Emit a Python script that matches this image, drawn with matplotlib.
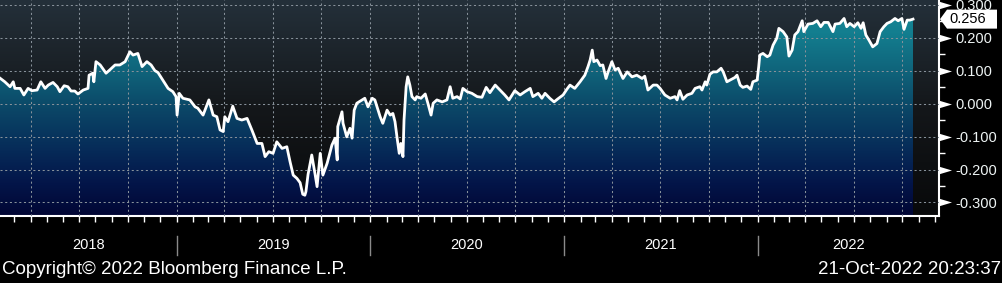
import numpy as np
import pandas as pd
import matplotlib
matplotlib.use('Agg')
import matplotlib.pyplot as plt
import matplotlib.dates as mdates
from matplotlib.colors import LinearSegmentedColormap
from matplotlib.patches import Polygon
from matplotlib.ticker import MultipleLocator, FormatStrFormatter
from matplotlib.transforms import IdentityTransform

plt.rcParams['font.family'] = ['Liberation Sans', 'DejaVu Sans']
plt.rcParams['axes.unicode_minus'] = False

######################################################################
# data (days after the first point, value)

start_date = '2018-02-02'
day_offset = [
    0, 9, 19, 25, 28, 38, 45, 53, 60, 70, 77, 85, 91, 100, 108, 113, 121, 128, 134, 141,
    147, 157, 166, 168, 175, 177, 181, 189, 200, 207, 217, 226, 236, 245, 251, 260, 268, 277, 285, 292,
    298, 307, 317, 326, 332, 334, 338, 345, 358, 368, 373, 383, 394, 402, 409, 415, 421, 424, 430, 439,
    447, 456, 466, 475, 485, 494, 500, 507, 515, 522, 532, 541, 547, 553, 560, 566, 571, 575, 577, 581,
    588, 594, 598, 604, 609, 617, 626, 632, 636, 637, 645, 647, 654, 660, 664, 668, 673, 683, 688, 694,
    702, 707, 717, 722, 730, 736, 741, 745, 749, 753, 756, 760, 762, 766, 769, 773, 777, 783, 786, 794,
    802, 807, 813, 817, 824, 834, 843, 849, 854, 862, 868, 873, 881, 890, 900, 909, 917, 924, 934, 943,
    952, 960, 971, 981, 990, 1000, 1005, 1015, 1022, 1028, 1037, 1045, 1052, 1062, 1069, 1075, 1084, 1094, 1103, 1109,
    1113, 1117, 1120, 1126, 1132, 1137, 1143, 1147, 1154, 1160, 1166, 1175, 1183, 1192, 1201, 1211, 1216, 1222, 1232, 1239,
    1245, 1254, 1264, 1273, 1277, 1282, 1288, 1296, 1305, 1311, 1320, 1324, 1330, 1333, 1339, 1345, 1352, 1360, 1364, 1371,
    1379, 1386, 1390, 1396, 1401, 1409, 1416, 1420, 1428, 1431, 1433, 1439, 1447, 1452, 1458, 1465, 1469, 1477, 1484, 1488,
    1494, 1499, 1505, 1513, 1516, 1524, 1533, 1541, 1548, 1554, 1562, 1571, 1575, 1584, 1592, 1597, 1603, 1611, 1618, 1624,
    1628, 1633, 1639, 1646, 1654, 1660, 1667, 1673, 1680, 1688, 1694, 1701, 1705, 1711, 1716, 1722,
]
spread = [
    0.077, 0.066, 0.051, 0.066, 0.046, 0.046, 0.026, 0.046, 0.039, 0.041, 0.066, 0.046, 0.056, 0.064, 0.051, 0.036, 0.054, 0.051, 0.038, 0.038,
    0.029, 0.041, 0.046, 0.086, 0.092, 0.066, 0.127, 0.117, 0.092, 0.102, 0.117, 0.117, 0.127, 0.157, 0.147, 0.152, 0.112, 0.127, 0.117, 0.100,
    0.094, 0.071, 0.046, 0.036, 0.021, -0.035, 0.031, 0.016, 0.011, -0.010, -0.014, -0.035, 0.011, -0.035, -0.040, -0.080, -0.085, -0.040, -0.055, -0.008,
    -0.045, -0.050, -0.045, -0.080, -0.121, -0.121, -0.161, -0.146, -0.151, -0.116, -0.136, -0.131, -0.176, -0.217, -0.227, -0.240, -0.275, -0.278, -0.267, -0.215,
    -0.156, -0.212, -0.252, -0.151, -0.217, -0.181, -0.126, -0.105, -0.171, -0.070, -0.025, -0.060, -0.101, -0.075, -0.105, -0.020, 0.001, 0.011, 0.016, -0.010,
    0.016, 0.011, -0.040, -0.060, -0.020, -0.035, -0.030, -0.055, -0.105, -0.151, -0.121, -0.161, -0.050, 0.051, 0.081, 0.056, 0.021, 0.011, 0.021, 0.016,
    0.029, 0.001, -0.035, 0.001, 0.011, 0.005, 0.011, 0.051, 0.016, 0.021, 0.014, 0.046, 0.036, 0.031, 0.021, 0.019, 0.049, 0.033, 0.056, 0.041,
    0.026, 0.011, 0.039, 0.026, 0.036, 0.046, 0.021, 0.031, 0.016, 0.031, 0.016, 0.005, 0.014, 0.026, 0.043, 0.056, 0.046, 0.066, 0.086, 0.112,
    0.132, 0.162, 0.127, 0.132, 0.115, 0.117, 0.076, 0.096, 0.127, 0.102, 0.107, 0.076, 0.096, 0.081, 0.086, 0.076, 0.083, 0.041, 0.056, 0.056,
    0.046, 0.026, 0.016, 0.021, 0.011, 0.039, 0.013, 0.026, 0.031, 0.046, 0.051, 0.041, 0.066, 0.056, 0.089, 0.096, 0.096, 0.107, 0.096, 0.066,
    0.073, 0.079, 0.086, 0.056, 0.049, 0.053, 0.043, 0.066, 0.071, 0.112, 0.147, 0.152, 0.142, 0.147, 0.177, 0.198, 0.228, 0.218, 0.202, 0.144,
    0.162, 0.208, 0.218, 0.251, 0.218, 0.241, 0.243, 0.251, 0.233, 0.246, 0.246, 0.218, 0.241, 0.243, 0.258, 0.233, 0.243, 0.233, 0.245, 0.228,
    0.245, 0.208, 0.192, 0.172, 0.182, 0.218, 0.233, 0.243, 0.248, 0.258, 0.251, 0.258, 0.225, 0.253, 0.253, 0.256,
]
years = [2018, 2019, 2020, 2021, 2022]
copyright_txt = 'Copyright\u00a9 2022 Bloomberg Finance L.P.'
stamp_txt = '21-Oct-2022 20:23:37'

######################################################################
# plot

dates = pd.Timestamp(start_date) + pd.to_timedelta(day_offset, unit='D')
x_left = pd.Timestamp(start_date)
x_right = pd.Timestamp('2022-12-09')
ylo, yhi = -0.341, 0.314

fig = plt.figure(figsize=(10.03, 2.83), dpi=100, facecolor='black')
ax = fig.add_axes([0, 67 / 283, 939 / 1003, 216 / 283])

line, = ax.plot(dates, spread, color='white', lw=2.0, zorder=3, solid_joinstyle='round')

# background + fill gradients
ext = [mdates.date2num(x_left), mdates.date2num(x_right), ylo, yhi]
grad = np.linspace(0, 1, 256).reshape(-1, 1)
bg_cmap = LinearSegmentedColormap.from_list('bg', [(0, '#08090a'), (0.5, '#14171a'), (1, '#24303a')])
fill_cmap = LinearSegmentedColormap.from_list('fill', [
    (0.00, '#010634'), (0.15, '#031549'), (0.30, '#062a58'), (0.50, '#0b4767'),
    (0.65, '#0f6078'), (0.85, '#137e8f'), (1.00, '#188c9a')])
ax.imshow(grad, extent=ext, origin='lower', aspect='auto', cmap=bg_cmap, zorder=0)
poly = ax.fill_between(dates, spread, ylo, facecolor='none', edgecolor='none')
im = ax.imshow(grad, extent=ext, origin='lower', aspect='auto', cmap=fill_cmap, zorder=1)
im.set_clip_path(poly.get_paths()[0], transform=ax.transData)

ax.set_xlim(x_left, x_right)
ax.set_ylim(ylo, yhi)

# axes styling
ax.xaxis.set_major_locator(mdates.MonthLocator(bymonth=[1, 4, 7, 10]))
ax.xaxis.set_minor_locator(mdates.MonthLocator())
ax.yaxis.set_major_locator(MultipleLocator(0.1))
ax.yaxis.set_minor_locator(MultipleLocator(0.05))
ax.yaxis.set_major_formatter(FormatStrFormatter('%.3f'))
ax.set_axisbelow(False)
ax.grid(True, which='major', color='#87919a', ls=(0, (2, 2.5)), lw=0.75)

ax.tick_params(axis='x', which='both', direction='out', length=4, width=1, color='white',
               labelbottom=False)
ax.tick_params(axis='y', which='major', length=0, left=False, right=True,
               labelleft=False, labelright=True, pad=12, labelsize=10.5, labelcolor='#eef4f4')
ax.tick_params(axis='y', which='minor', length=4, width=1, color='white', left=False, right=True)

for s in ['top', 'left']:
    ax.spines[s].set_visible(False)
for s in ['right', 'bottom']:
    ax.spines[s].set_color('white')
    ax.spines[s].set_linewidth(1.5)

# triangle tick markers on the right axis
tri = [(0, -0.3), (1, 0), (0, 0.3)]
yt = np.arange(-0.3, 0.31, 0.1)
ax.plot(np.ones(len(yt)), yt, ls='none', marker=tri, ms=18, color='white', mew=0,
        transform=ax.get_yaxis_transform(), clip_on=False, zorder=5)

# year labels and separators
xt = ax.get_xaxis_transform()
for yr in years:
    y0 = max(pd.Timestamp(f'{yr}-01-01'), x_left)
    y1 = min(pd.Timestamp(f'{yr + 1}-01-01'), x_right)
    mid = y0 + (y1 - y0) / 2
    ax.text(mid, -0.134, str(yr), transform=xt, ha='center', va='center',
            color='white', fontsize=10.5)
    if pd.Timestamp(f'{yr}-01-01') > x_left:
        ax.plot([pd.Timestamp(f'{yr}-01-01')] * 2, [-0.0926, -0.1806], transform=xt,
                color='#8a8a8a', lw=1, clip_on=False)

# last value tag
px, py = ax.get_yaxis_transform().transform((1.0, spread[-1]))
tag = Polygon([(px + 1, py), (px + 8, py + 9.5), (px + 58, py + 9.5),
               (px + 58, py - 9.5), (px + 8, py - 9.5)], closed=True,
              transform=IdentityTransform(), fc='white', ec='none', zorder=6)
fig.add_artist(tag)
fig.text(px + 10, py, f'{spread[-1]:.3f}', transform=IdentityTransform(), ha='left',
         va='center', color='black', fontsize=10.5, zorder=7)

fig.text(2 / 1003, 1 - 270 / 283, copyright_txt, ha='left', va='center', color='white', fontsize=13.5)
fig.text(1001 / 1003, 1 - 270 / 283, stamp_txt, ha='right', va='center', color='white', fontsize=13.5)

plt.savefig('out.png', dpi=100, facecolor='black')
